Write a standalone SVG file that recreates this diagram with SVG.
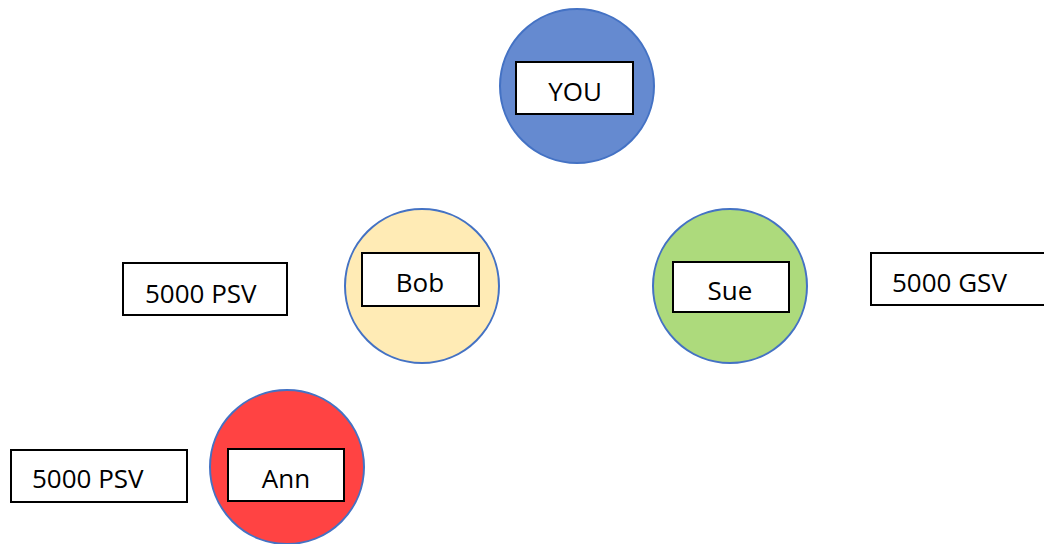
<svg xmlns="http://www.w3.org/2000/svg" width="1044" height="544" viewBox="0 0 1044 544">
<style>
.c{stroke:#4472C4;stroke-width:2}
.b{fill:#fff;stroke:#000;stroke-width:2}
text{font-family:"Open Sans","Liberation Sans",sans-serif;font-size:26px;fill:#000}
.m{text-anchor:middle}
</style>
<rect width="1044" height="544" fill="#fff"/>
<g id="you">
<circle class="c" cx="577" cy="86" r="77" fill="#658AD0"/>
<rect class="b" x="516" y="62" width="117" height="52"/>
<text class="m" x="575" y="101">YOU</text>
</g>
<g id="bob">
<circle class="c" cx="422" cy="286" r="77" fill="#FFEBB5"/>
<rect class="b" x="362" y="253" width="117" height="53"/>
<text class="m" x="420" y="292">Bob</text>
</g>
<g id="sue">
<circle class="c" cx="730" cy="286" r="77" fill="#ADDA7C"/>
<rect class="b" x="673" y="262" width="116" height="50"/>
<text class="m" x="730" y="300">Sue</text>
</g>
<g id="ann">
<circle class="c" cx="287" cy="467" r="77" fill="#FF4343"/>
<rect class="b" x="228" y="449" width="116" height="52"/>
<text class="m" x="286" y="488">Ann</text>
</g>
<g id="psv1">
<rect class="b" x="123" y="263" width="164" height="52"/>
<text x="145" y="303">5000 PSV</text>
</g>
<g id="gsv">
<rect class="b" x="871" y="253" width="180" height="52"/>
<text x="892" y="292">5000 GSV</text>
</g>
<g id="psv2">
<rect class="b" x="11" y="450" width="176" height="52"/>
<text x="32" y="488">5000 PSV</text>
</g>
<g id="connectors"/>
</svg>
